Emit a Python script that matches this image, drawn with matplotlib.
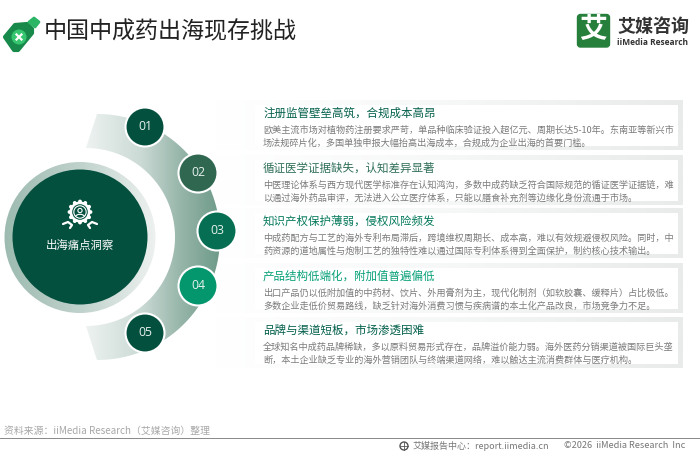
import numpy as np
import matplotlib
matplotlib.use("Agg")
import matplotlib.pyplot as plt
from matplotlib.colors import LinearSegmentedColormap
from matplotlib.patches import Circle, FancyBboxPatch, Polygon, PathPatch, Rectangle
from matplotlib.path import Path

plt.rcParams['font.family'] = ['Noto Sans CJK SC', 'DejaVu Sans']

chart_title = "中国中成药出海现存挑战"
center_label = "出海痛点洞察"
numbers = ["01", "02", "03", "04", "05"]
num_colors = ["#04503f", "#2f6750", "#066e52", "#04966c", "#04503f"]
head_colors = ["#04604c", "#2f6f58", "#067a5c", "#06a078", "#04604c"]
heads = [
    "注册监管壁垒高筑，合规成本高昂",
    "循证医学证据缺失，认知差异显著",
    "知识产权保护薄弱，侵权风险频发",
    "产品结构低端化，附加值普遍偏低",
    "品牌与渠道短板，市场渗透困难",
]
bodies = [
    ["欧美主流市场对植物药注册要求严苛，单品种临床验证投入超亿元、周期长达5-10年。东南亚等新兴市",
     "场法规碎片化，多国单独申报大幅抬高出海成本，合规成为企业出海的首要门槛。"],
    ["中医理论体系与西方现代医学标准存在认知鸿沟，多数中成药缺乏符合国际规范的循证医学证据链，难",
     "以通过海外药品审评，无法进入公立医疗体系，只能以膳食补充剂等边缘化身份流通于市场。"],
    ["中成药配方与工艺的海外专利布局滞后，跨境维权周期长、成本高，难以有效规避侵权风险。同时，中",
     "药资源的道地属性与炮制工艺的独特性难以通过国际专利体系得到全面保护，制约核心技术输出。"],
    ["出口产品仍以低附加值的中药材、饮片、外用膏剂为主，现代化制剂（如软胶囊、缓释片）占比极低。",
     "多数企业走低价贸易路线，缺乏针对海外消费习惯与疾病谱的本土化产品改良，市场竞争力不足。"],
    ["全球知名中成药品牌稀缺，多以原料贸易形式存在，品牌溢价能力弱。海外医药分销渠道被国际巨头垄",
     "断，本土企业缺乏专业的海外营销团队与终端渠道网络，难以触达主流消费群体与医疗机构。"],
]
source_text = "资料来源：iiMedia Research（艾媒咨询）整理"
footer_left = "艾媒报告中心：report.iimedia.cn"
footer_right = "©2026  iiMedia Research  Inc"

card_top = [100, 155, 208, 263, 317]
card_bottom = [150, 205, 258, 313, 368]
circle_x = [145, 198, 217, 198, 145]
circle_y = [127, 173, 231, 286, 333]

fig = plt.figure(figsize=(7, 4.54), dpi=100)
ax = fig.add_axes([0, 0, 1, 1])
ax.axis("off")


def gradient(x0, x1, y0, y1, colors, clip=None, zorder=1):
    cmap = LinearSegmentedColormap.from_list("g", colors)
    im = ax.imshow(np.linspace(0, 1, 256).reshape(1, -1), cmap=cmap, aspect="auto",
                   extent=(x0, x1, y1, y0), zorder=zorder, interpolation="bilinear")
    if clip is not None:
        im.set_clip_path(clip)
    return im


# cards
for top, bottom in zip(card_top, card_bottom):
    gradient(215, 683, top, bottom, ["#ffffff", "#f6f7f7", "#e9eaea"], zorder=1)
    gradient(255, 678, top + 5, bottom - 4, ["#ffffff", "#ffffff"], zorder=1.1)

# big arc behind the numbers
t = np.linspace(-np.pi / 2, np.pi / 2, 200)
outer_x = 97 + 123 * np.cos(t)
outer_y = 237 + 123 * np.sin(t)
inner_x = 86 + 89 * np.cos(t[::-1])
inner_y = 237 + 89 * np.sin(t[::-1])
arc = Polygon(np.column_stack([np.r_[outer_x, inner_x], np.r_[outer_y, inner_y]]),
              closed=True, fc="none", ec="none", transform=ax.transData)
ax.add_patch(arc)
gradient(60, 222, 110, 365, ["#ffffff", "#e4ecea", "#cbdad5", "#96b5a9", "#6c9988"],
         clip=arc, zorder=2)

# central disc
ring = Circle((80, 237.5), 75.5, fc="none", ec="none")
ax.add_patch(ring)
gradient(4, 157, 160, 315, ["#9dbbb0", "#c0d2cc", "#eef2f0"], clip=ring, zorder=3)
ax.add_patch(Circle((80, 237), 67.5, fc="#04503f", ec="none", zorder=4))

# badge icon
ang = np.linspace(0, 2 * np.pi, 12, endpoint=False)
ax.add_patch(Circle((80, 212), 10.5, fc="white", ec="none", zorder=5))
for a in ang:
    ax.add_patch(Circle((80 + 10.5 * np.cos(a), 212 + 10.5 * np.sin(a)), 1.9,
                        fc="white", ec="none", zorder=5))
ax.add_patch(Circle((80, 212), 7.8, fc="#04503f", ec="none", zorder=6))
ax.add_patch(Circle((80, 212), 6.2, fc="none", ec="white", lw=0.8, zorder=7))
ax.add_patch(Circle((80, 210.5), 2.1, fc="none", ec="white", lw=0.8, zorder=7))
ax.add_patch(PathPatch(Path([(75.5, 216.5), (77, 213.5), (83, 213.5), (84.5, 216.5)],
                            [Path.MOVETO, Path.CURVE4, Path.CURVE4, Path.CURVE4]),
                       fc="none", ec="white", lw=0.8, zorder=7))
ax.plot([63, 68, 72, 70], [224, 222, 225, 228], color="white", lw=1.6, zorder=5,
        solid_capstyle="round")
ax.plot([97, 92, 88, 90], [224, 222, 225, 228], color="white", lw=1.6, zorder=5,
        solid_capstyle="round")
ax.text(80, 245, center_label, color="white", fontsize=8.2, ha="center", va="center", zorder=6)

# numbered dots
for n, c, x, y in zip(numbers, num_colors, circle_x, circle_y):
    ax.add_patch(Circle((x, y), 19.5, fc=c, ec="white", lw=1.5, zorder=6))
    ax.text(x, y - 0.5, n, color="#e8f2ee", fontsize=8.8, ha="center", va="center", zorder=7,
            family=['Open Sans', 'DejaVu Sans'])

# card text
for i in range(5):
    ax.text(263, card_top[i] + 13.5, heads[i], color=head_colors[i], fontsize=8.3,
            fontweight="medium", ha="left", va="center", zorder=5)
    ax.text(263, card_top[i] + 30, bodies[i][0], color="#7b7b7b", fontsize=6.6,
            ha="left", va="center", zorder=5)
    ax.text(263, card_top[i] + 43, bodies[i][1], color="#7b7b7b", fontsize=6.6,
            ha="left", va="center", zorder=5)

# title + bottle icon
ax.text(44, 32, chart_title, color="#222222", fontsize=16.6, ha="left", va="center", zorder=5)
ax.add_patch(Polygon([(5, 37), (15, 25), (27, 24), (32, 29), (32, 33), (18, 50), (14, 50)],
                     closed=True, fc="#17894a", ec="#17894a", lw=3, joinstyle="round", zorder=5))
ax.add_patch(Polygon([(29, 22), (34, 18), (39, 22), (35, 27)], closed=True,
                     fc="#2cb564", ec="#2cb564", lw=2, joinstyle="round", zorder=5))
ax.add_patch(Circle((19, 37), 7.5, fc="#35c66f", ec="none", zorder=6))
ax.plot([16.5, 21.5], [34.5, 39.5], color="white", lw=1.6, zorder=7)
ax.plot([16.5, 21.5], [39.5, 34.5], color="white", lw=1.6, zorder=7)

# logo
ax.add_patch(FancyBboxPatch((577.5, 14.5), 32, 32.5, boxstyle="round,pad=0,rounding_size=3",
                            fc="#26803c", ec="#26803c", lw=1, zorder=5))
ax.text(593.5, 30, "艾", color="white", fontsize=20, fontweight="bold", ha="center",
        va="center", zorder=6)
ax.text(617, 26, "艾媒咨询", color="#333333", fontsize=13, fontweight="bold", ha="left",
        va="center", zorder=5)
ax.text(617, 42.5, "iiMedia Research", color="#333333", fontsize=6.0, fontweight="bold",
        ha="left", va="center", zorder=5, family=['Open Sans', 'DejaVu Sans'])

# footer
ax.text(4, 431, source_text, color="#a8a8a8", fontsize=7.1, ha="left", va="center")
ax.add_patch(Rectangle((0, 437.5), 700, 1.4, fc="#8c8c8c", ec="none", zorder=5))
ax.add_patch(Circle((404, 446), 4, fc="none", ec="#555555", lw=1, zorder=5))
ax.plot([400, 408], [446, 446], color="#555555", lw=0.6, zorder=5)
ax.plot([404, 404], [442, 450], color="#555555", lw=0.6, zorder=5)
ax.text(413, 446, footer_left, color="#777777", fontsize=6.5, ha="left", va="center")
ax.text(564, 446, footer_right, color="#777777", fontsize=6.6, ha="left", va="center")

ax.set_xlim(0, 700)
ax.set_ylim(454, 0)
fig.savefig("out.png", dpi=100)
